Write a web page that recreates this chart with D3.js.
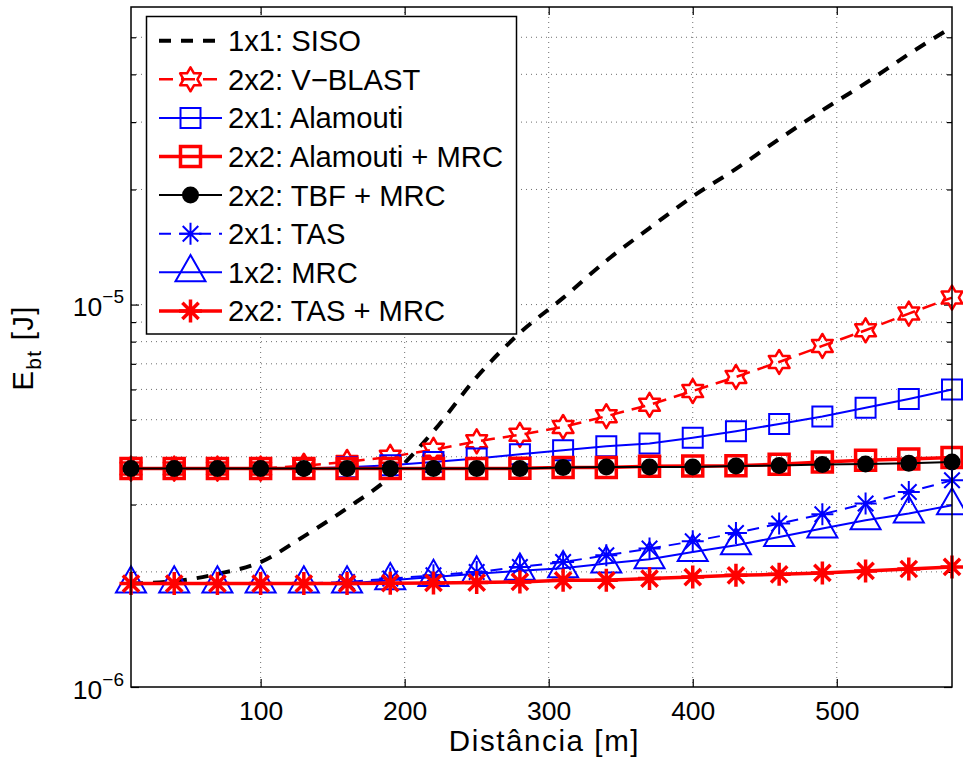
<!DOCTYPE html>
<html>
<head>
<meta charset="utf-8">
<script src="https://cdn.jsdelivr.net/npm/d3@7"></script>
<style>
  body { margin: 0; background: #fff; }
  svg text { font-family: "Liberation Sans", Arial, Helvetica, sans-serif; fill: #000; }
</style>
</head>
<body>
<svg id="chart" width="963" height="763"></svg>
<script>
// Transmission distance (m)
const distances = [10, 40, 70, 100, 130, 160, 190, 220, 250, 280, 310, 340, 370, 400, 430, 460, 490, 520, 550, 580];

// Energy per bit, E_bt (J), for each scheme
const sisoEnergy = [1.864e-6, 1.890e-6, 1.975e-6, 2.122e-6, 2.477e-6, 2.934e-6, 3.546e-6, 4.664e-6, 6.463e-6, 8.433e-6,
                    1.041e-5, 1.302e-5, 1.585e-5, 1.917e-5, 2.264e-5, 2.709e-5, 3.222e-5, 3.793e-5, 4.517e-5, 5.319e-5];
const vblastEnergy = [3.725e-6, 3.725e-6, 3.725e-6, 3.725e-6, 3.790e-6, 3.877e-6, 3.999e-6, 4.172e-6, 4.390e-6, 4.565e-6,
                      4.786e-6, 5.105e-6, 5.470e-6, 5.943e-6, 6.467e-6, 7.078e-6, 7.795e-6, 8.566e-6, 9.473e-6, 1.043e-5];
const alamoutiEnergy = [3.725e-6, 3.725e-6, 3.725e-6, 3.725e-6, 3.725e-6, 3.755e-6, 3.801e-6, 3.877e-6, 3.957e-6, 4.061e-6,
                        4.159e-6, 4.260e-6, 4.330e-6, 4.484e-6, 4.664e-6, 4.873e-6, 5.095e-6, 5.372e-6, 5.664e-6, 5.994e-6];
const alamoutiMrcEnergy = [3.725e-6, 3.725e-6, 3.725e-6, 3.725e-6, 3.725e-6, 3.725e-6, 3.725e-6, 3.725e-6, 3.725e-6, 3.730e-6,
                           3.748e-6, 3.748e-6, 3.777e-6, 3.784e-6, 3.790e-6, 3.823e-6, 3.877e-6, 3.916e-6, 3.947e-6, 3.981e-6];
const tbfMrcEnergy = [3.725e-6, 3.725e-6, 3.725e-6, 3.725e-6, 3.725e-6, 3.725e-6, 3.725e-6, 3.725e-6, 3.725e-6, 3.725e-6,
                      3.748e-6, 3.762e-6, 3.762e-6, 3.762e-6, 3.784e-6, 3.793e-6, 3.816e-6, 3.830e-6, 3.846e-6, 3.877e-6];
const tasEnergy = [1.864e-6, 1.864e-6, 1.864e-6, 1.864e-6, 1.864e-6, 1.882e-6, 1.921e-6, 1.959e-6, 1.998e-6, 2.060e-6,
                   2.122e-6, 2.210e-6, 2.301e-6, 2.404e-6, 2.527e-6, 2.675e-6, 2.829e-6, 3.018e-6, 3.236e-6, 3.472e-6];
const mrcEnergy = [1.864e-6, 1.864e-6, 1.864e-6, 1.864e-6, 1.864e-6, 1.864e-6, 1.901e-6, 1.939e-6, 1.979e-6, 2.013e-6,
                   2.044e-6, 2.102e-6, 2.157e-6, 2.254e-6, 2.348e-6, 2.468e-6, 2.596e-6, 2.729e-6, 2.841e-6, 2.988e-6];
const tasMrcEnergy = [1.864e-6, 1.864e-6, 1.864e-6, 1.864e-6, 1.864e-6, 1.864e-6, 1.868e-6, 1.871e-6, 1.875e-6, 1.882e-6,
                      1.901e-6, 1.901e-6, 1.921e-6, 1.939e-6, 1.959e-6, 1.971e-6, 1.987e-6, 2.011e-6, 2.035e-6, 2.060e-6];

// Axis ticks and labels
const xTicks = [100, 200, 300, 400, 500];
const yMajorTicks = [1e-6, 1e-5];
const yMajorExponents = ["\u22126", "\u22125"];
const yMinorTicks = [2e-6, 3e-6, 4e-6, 5e-6, 6e-6, 7e-6, 8e-6, 9e-6, 2e-5, 3e-5, 4e-5, 5e-5];
const xLabel = "Dist\u00e2ncia [m]";

// Series: legend text, data and drawing style
const series = [
  { name: "1x1: SISO", values: sisoEnergy, color: "#000000", width: 4, dash: "12,10", marker: null, smooth: true },
  { name: "2x2: V\u2212BLAST", values: vblastEnergy, color: "#ff0000", width: 2.5, dash: "14,8", marker: "hexagram", size: 12, mwidth: 2.5 },
  { name: "2x1: Alamouti", values: alamoutiEnergy, color: "#0000ff", width: 2, dash: null, marker: "square", size: 20, mwidth: 2 },
  { name: "2x2: Alamouti + MRC", values: alamoutiMrcEnergy, color: "#ff0000", width: 3.5, dash: null, marker: "square", size: 20, mwidth: 3.5 },
  { name: "2x2: TBF + MRC", values: tbfMrcEnergy, color: "#000000", width: 2, dash: null, marker: "dot", size: 8.5, mwidth: 0 },
  { name: "2x1: TAS", values: tasEnergy, color: "#0000ff", width: 2, dash: "12,8", marker: "asterisk", size: 11, mwidth: 2 },
  { name: "1x2: MRC", values: mrcEnergy, color: "#0000ff", width: 2, dash: null, marker: "triangle", size: 15, mwidth: 2 },
  { name: "2x2: TAS + MRC", values: tasMrcEnergy, color: "#ff0000", width: 3.5, dash: null, marker: "asterisk", size: 11.5, mwidth: 3.5 }
];

const svg = d3.select("#chart");
const plot = { left: 131, right: 952, top: 7, bottom: 687 };

const x = d3.scaleLinear().domain([10, 580]).range([plot.left, plot.right]);
const y = d3.scaleLog().domain([1e-6, 6e-5]).range([plot.bottom, plot.top]);

// Dotted grid
const grid = svg.append("g").attr("stroke", "#333").attr("stroke-width", 1)
  .attr("stroke-dasharray", "1,4").attr("opacity", 0.7);
grid.selectAll("line.gx").data(xTicks).join("line")
  .attr("x1", d => x(d)).attr("x2", d => x(d))
  .attr("y1", plot.top).attr("y2", plot.bottom);
grid.selectAll("line.gy").data(yMajorTicks.concat(yMinorTicks).filter(d => d > 1e-6)).join("line")
  .attr("x1", plot.left).attr("x2", plot.right)
  .attr("y1", d => y(d)).attr("y2", d => y(d));

// Axes: ticks point into the plot on all four sides
function styleAxis(g) {
  g.select(".domain").remove();
  g.selectAll(".tick line").attr("stroke", "#000").attr("stroke-width", 1.2);
}
const xAxisBottom = svg.append("g").attr("transform", `translate(0,${plot.bottom})`)
  .call(d3.axisBottom(x).tickValues(xTicks).tickSizeInner(-8).tickSizeOuter(0).tickFormat(d3.format("d")))
  .call(styleAxis);
xAxisBottom.selectAll(".tick text").attr("y", 33).attr("dy", null)
  .attr("font-size", 26.5).attr("font-family", null);

svg.append("g").attr("transform", `translate(0,${plot.top})`)
  .call(d3.axisTop(x).tickValues(xTicks).tickSizeInner(-8).tickSizeOuter(0).tickFormat(""))
  .call(styleAxis);

const yAxisLeft = svg.append("g").attr("transform", `translate(${plot.left},0)`)
  .call(d3.axisLeft(y).tickValues(yMajorTicks).tickSizeInner(-8).tickSizeOuter(0).tickFormat(() => ""))
  .call(styleAxis);
yAxisLeft.selectAll(".tick text").each(function (d, i) {
  const t = d3.select(this).attr("x", -7).attr("y", 11).attr("dy", null)
    .attr("text-anchor", "end").attr("font-family", null);
  t.text(null);
  t.append("tspan").attr("font-size", 26.5).text("10");
  t.append("tspan").attr("font-size", 19).attr("dy", -13).text(yMajorExponents[i]);
});
svg.append("g").attr("transform", `translate(${plot.left},0)`)
  .call(d3.axisLeft(y).tickValues(yMinorTicks).tickSizeInner(-5).tickSizeOuter(0).tickFormat(""))
  .call(styleAxis);
svg.append("g").attr("transform", `translate(${plot.right},0)`)
  .call(d3.axisRight(y).tickValues(yMajorTicks).tickSizeInner(-8).tickSizeOuter(0).tickFormat(""))
  .call(styleAxis);
svg.append("g").attr("transform", `translate(${plot.right},0)`)
  .call(d3.axisRight(y).tickValues(yMinorTicks).tickSizeInner(-5).tickSizeOuter(0).tickFormat(""))
  .call(styleAxis);

// Marker shapes centred on (0,0)
function markerPath(type, s) {
  if (type === "square") {
    const h = s / 2;
    return `M${-h},${-h}H${h}V${h}H${-h}Z`;
  }
  if (type === "hexagram") {
    const pts = [];
    for (let k = 0; k < 12; k++) {
      const r = k % 2 === 0 ? s : s / Math.sqrt(3);
      const a = -Math.PI / 2 + k * Math.PI / 6;
      pts.push([r * Math.cos(a), r * Math.sin(a)]);
    }
    return "M" + pts.map(p => p[0].toFixed(2) + "," + p[1].toFixed(2)).join("L") + "Z";
  }
  if (type === "asterisk") {
    const d = s / Math.SQRT2;
    return `M0,${-s}V${s}M${-s},0H${s}M${-d},${-d}L${d},${d}M${-d},${d}L${d},${-d}`;
  }
  if (type === "triangle") {
    return `M0,${-s * 1.15}L${s},${s * 0.6}L${-s},${s * 0.6}Z`;
  }
  return "";
}

function drawMarker(g, type, s, color, w) {
  if (type === "dot") {
    g.append("circle").attr("r", s).attr("fill", color);
  } else {
    g.append("path").attr("d", markerPath(type, s)).attr("fill", "none")
      .attr("stroke", color).attr("stroke-width", w)
      .attr("stroke-linejoin", type === "hexagram" ? "round" : "miter");
  }
}

// Curves
const straight = d3.line().x((d, i) => x(distances[i])).y(d => y(d));
const smooth = d3.line().x((d, i) => x(distances[i])).y(d => y(d)).curve(d3.curveMonotoneX);
series.forEach(s => {
  const g = svg.append("g");
  g.append("path").datum(s.values).attr("d", s.smooth ? smooth : straight)
    .attr("fill", "none").attr("stroke", s.color).attr("stroke-width", s.width)
    .attr("stroke-dasharray", s.dash).attr("stroke-linejoin", "round");
  if (s.marker) {
    g.selectAll("g.m").data(s.values).join("g")
      .attr("transform", (d, i) => `translate(${x(distances[i])},${y(d)})`)
      .each(function () { drawMarker(d3.select(this), s.marker, s.size, s.color, s.mwidth); });
  }
});

// Plot frame
svg.append("rect").attr("x", plot.left).attr("y", plot.top)
  .attr("width", plot.right - plot.left).attr("height", plot.bottom - plot.top)
  .attr("fill", "none").attr("stroke", "#000").attr("stroke-width", 1.5);

// Axis titles
svg.append("text").attr("x", (plot.left + plot.right) / 2 + 3).attr("y", 751)
  .attr("text-anchor", "middle").attr("font-size", 29.5).attr("letter-spacing", 1.6).text(xLabel);
const yTitle = svg.append("text").attr("transform", "translate(33,348) rotate(-90)")
  .attr("text-anchor", "middle").attr("font-size", 29.5).attr("letter-spacing", 1.3);
yTitle.append("tspan").text("E");
yTitle.append("tspan").attr("font-size", 21).attr("dy", 8).text("bt");
yTitle.append("tspan").attr("dy", -8).text(" [J]");

// Legend
const legend = svg.append("g");
legend.append("rect").attr("x", 146.5).attr("y", 16.5).attr("width", 370).attr("height", 317.5)
  .attr("fill", "#fff").attr("stroke", "#000").attr("stroke-width", 1.5);
series.forEach((s, i) => {
  const cy = 40.7 + i * 38.6;
  const row = legend.append("g");
  row.append("line").attr("x1", 159).attr("x2", 222).attr("y1", cy).attr("y2", cy)
    .attr("stroke", s.color).attr("stroke-width", s.width).attr("stroke-dasharray", s.dash);
  if (s.marker) {
    drawMarker(row.append("g").attr("transform", `translate(190.5,${cy})`), s.marker, s.size, s.color, s.mwidth);
  }
  row.append("text").attr("x", 228).attr("y", cy + 10.5).attr("font-size", 29.2).text(s.name);
});
</script>
</body>
</html>
